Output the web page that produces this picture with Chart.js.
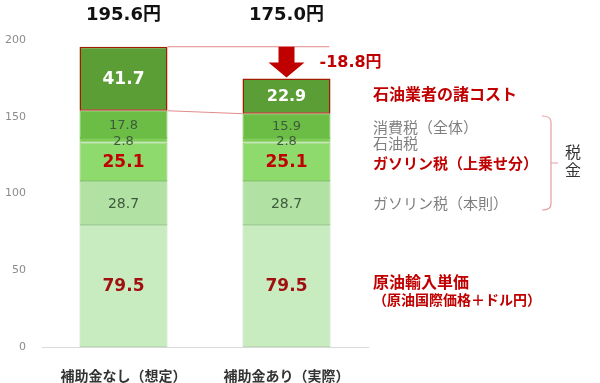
<!DOCTYPE html>
<html>
<head>
<meta charset="utf-8">
<script src="https://cdn.jsdelivr.net/npm/chart.js@4"></script>
<style>
  body { margin: 0; background: #fff; }
  #wrap { width: 600px; height: 383px; }
</style>
</head>
<body>
<div id="wrap"><canvas id="myChart"></canvas></div>
<script>
'use strict'

const categories = ['補助金なし（想定）', '補助金あり（実際）'];
const crudeCost = [79.5, 79.5];
const gasTaxBase = [28.7, 28.7];
const gasTaxExtra = [25.1, 25.1];
const petroleumTax = [2.8, 2.8];
const consumptionTax = [17.8, 15.9];
const industryCost = [41.7, 22.9];
const totals = [195.6, 175.0];
const seriesNames = ['原油輸入単価', 'ガソリン税（本則）', 'ガソリン税（上乗せ分）', '石油税', '消費税（全体）', '石油業者の諸コスト'];

const numFont = '"DejaVu Sans", "Noto Sans CJK JP", sans-serif';
const jpFont = '"Noto Sans CJK JP", sans-serif';
const red = '#c00000';

const series = [crudeCost, gasTaxBase, gasTaxExtra, petroleumTax, consumptionTax, industryCost];
const fills = ['#c8ecc0', '#b2e2a3', '#8fda6c', '#7dcc55', '#6bbd45', '#5b9e35'];
const edges = ['#b8dcb0', '#a2d293', '#85cc64', '#76c24f', '#6bbd45', '#a01c00'];
const labelStyle = [
    {font: 'bold 17px ' + numFont, color: '#a01010'},
    {font: '14px ' + numFont, color: '#3d5a3d'},
    {font: 'bold 17px ' + numFont, color: red},
    {font: '13px ' + numFont, color: '#3d5a3d'},
    {font: '13px ' + numFont, color: '#3d5a3d'},
    {font: 'bold 17px ' + numFont, color: '#ffffff'}
];

const datasets = series.map((d, i) => ({
    label: seriesNames[i],
    data: d,
    backgroundColor: fills[i],
    borderColor: edges[i],
    borderWidth: i === 5 ? 1.5 : 1,
    borderSkipped: false,
    categoryPercentage: 1,
    barPercentage: 0.54
}));

const drawExtras = {
    id: 'drawExtras',
    afterDatasetsDraw(chart) {
        const ctx = chart.ctx;
        const y = chart.scales.y;
        ctx.save();
        ctx.textBaseline = 'middle';
        ctx.textAlign = 'center';

        // segment values
        chart.data.datasets.forEach((ds, i) => {
            const meta = chart.getDatasetMeta(i);
            meta.data.forEach((bar, j) => {
                let font = labelStyle[i].font;
                if (i === 5 && j === 1) font = 'bold 16px ' + numFont;
                ctx.font = font;
                ctx.fillStyle = labelStyle[i].color;
                ctx.fillText(ds.data[j].toFixed(1), bar.x, (bar.y + bar.base) / 2 + 1);
            });
        });

        // totals on top
        const topMeta = chart.getDatasetMeta(5);
        ctx.font = 'bold 18px ' + numFont;
        ctx.fillStyle = '#111';
        topMeta.data.forEach((bar, j) => {
            ctx.fillText(totals[j].toFixed(1) + '円', bar.x, 15);
        });

        // connector lines
        const b0 = topMeta.data[0], b1 = topMeta.data[1];
        const half0 = b0.width / 2, half1 = b1.width / 2;
        ctx.strokeStyle = '#e58a8a';
        ctx.lineWidth = 1;
        ctx.beginPath();
        ctx.moveTo(b0.x + half0, b0.y);
        ctx.lineTo(b1.x + half1 - 1, b0.y);
        ctx.moveTo(b0.x + half0, b0.base);
        ctx.lineTo(b1.x - half1, b1.base);
        ctx.stroke();

        // down arrow
        const ax = b1.x;
        const aTop = b0.y;
        const aBot = b1.y - 1;
        const headH = 15;
        ctx.fillStyle = '#c00000';
        ctx.beginPath();
        ctx.moveTo(ax - 8, aTop);
        ctx.lineTo(ax + 8, aTop);
        ctx.lineTo(ax + 8, aBot - headH);
        ctx.lineTo(ax + 18, aBot - headH);
        ctx.lineTo(ax, aBot);
        ctx.lineTo(ax - 18, aBot - headH);
        ctx.lineTo(ax - 8, aBot - headH);
        ctx.closePath();
        ctx.fill();

        const diff = industryCost[1] - industryCost[0];
        ctx.textAlign = 'left';
        ctx.font = 'bold 16px ' + numFont;
        ctx.fillStyle = red;
        ctx.fillText('-' + Math.abs(diff).toFixed(1) + '円', ax + 33, 63);

        // right side labels
        const lx = 373;
        const mid = (arr, k) => {
            let base = 0;
            for (let s = 0; s < k; s++) base += series[s][1];
            return y.getPixelForValue(base + arr[1] / 2);
        };
        ctx.font = 'bold 16px ' + jpFont;
        ctx.fillStyle = red;
        ctx.fillText(seriesNames[5], lx, mid(industryCost, 5) - 2);
        ctx.font = '15px ' + jpFont;
        ctx.fillStyle = '#7f7f7f';
        ctx.fillText(seriesNames[4], lx, mid(consumptionTax, 4) + 1);
        ctx.fillText(seriesNames[3], lx, mid(petroleumTax, 3) + 3);
        ctx.fillText(seriesNames[1], lx, mid(gasTaxBase, 1));
        ctx.font = 'bold 15px ' + jpFont;
        ctx.fillStyle = red;
        ctx.fillText(seriesNames[2], lx, mid(gasTaxExtra, 2) + 2);
        const crudeY = mid(crudeCost, 0);
        ctx.font = 'bold 16px ' + jpFont;
        ctx.fillText(seriesNames[0], lx, crudeY - 4);
        ctx.font = 'bold 14px ' + jpFont;
        ctx.fillText('（原油国際価格＋ドル円）', lx, crudeY + 14);

        // tax bracket
        const bx = 551;
        const bTop = 116, bBot = 210, bMid = 163;
        ctx.strokeStyle = '#e3a0a6';
        ctx.lineWidth = 1.2;
        ctx.beginPath();
        ctx.moveTo(bx - 9, bTop);
        ctx.quadraticCurveTo(bx, bTop, bx, bTop + 6);
        ctx.lineTo(bx, bBot - 6);
        ctx.quadraticCurveTo(bx, bBot, bx - 9, bBot);
        ctx.moveTo(bx, bMid);
        ctx.lineTo(bx + 7, bMid);
        ctx.stroke();

        ctx.textAlign = 'center';
        ctx.font = '16px ' + jpFont;
        ctx.fillStyle = '#333';
        ctx.fillText('税', 573, 152);
        ctx.fillText('金', 573, 170);

        ctx.restore();
    }
};

const config = {
    type: 'bar',
    data: {
        labels: categories,
        datasets: datasets
    },
    options: {
        responsive: true,
        maintainAspectRatio: false,
        animation: false,
        layout: {
            padding: {left: 0, right: 232, top: 40, bottom: 0}
        },
        plugins: {
            legend: {display: false},
            tooltip: {enabled: false}
        },
        scales: {
            x: {
                stacked: true,
                grid: {display: false},
                border: {color: '#d9d9d9', width: 1},
                ticks: {
                    color: '#333',
                    padding: 12,
                    font: {family: jpFont, size: 14, weight: 'bold'}
                },
                afterFit(scale) { scale.height = 36; }
            },
            y: {
                stacked: true,
                min: 0,
                max: 200,
                grid: {display: false, drawTicks: false},
                border: {display: false},
                ticks: {
                    stepSize: 50,
                    color: '#8c8c8c',
                    padding: 16,
                    font: {family: numFont, size: 11}
                },
                afterFit(scale) { scale.width = 42; }
            }
        }
    },
    plugins: [drawExtras]
};

const myChart = new Chart(
    document.getElementById('myChart'),
    config
);
</script>
</body>
</html>
